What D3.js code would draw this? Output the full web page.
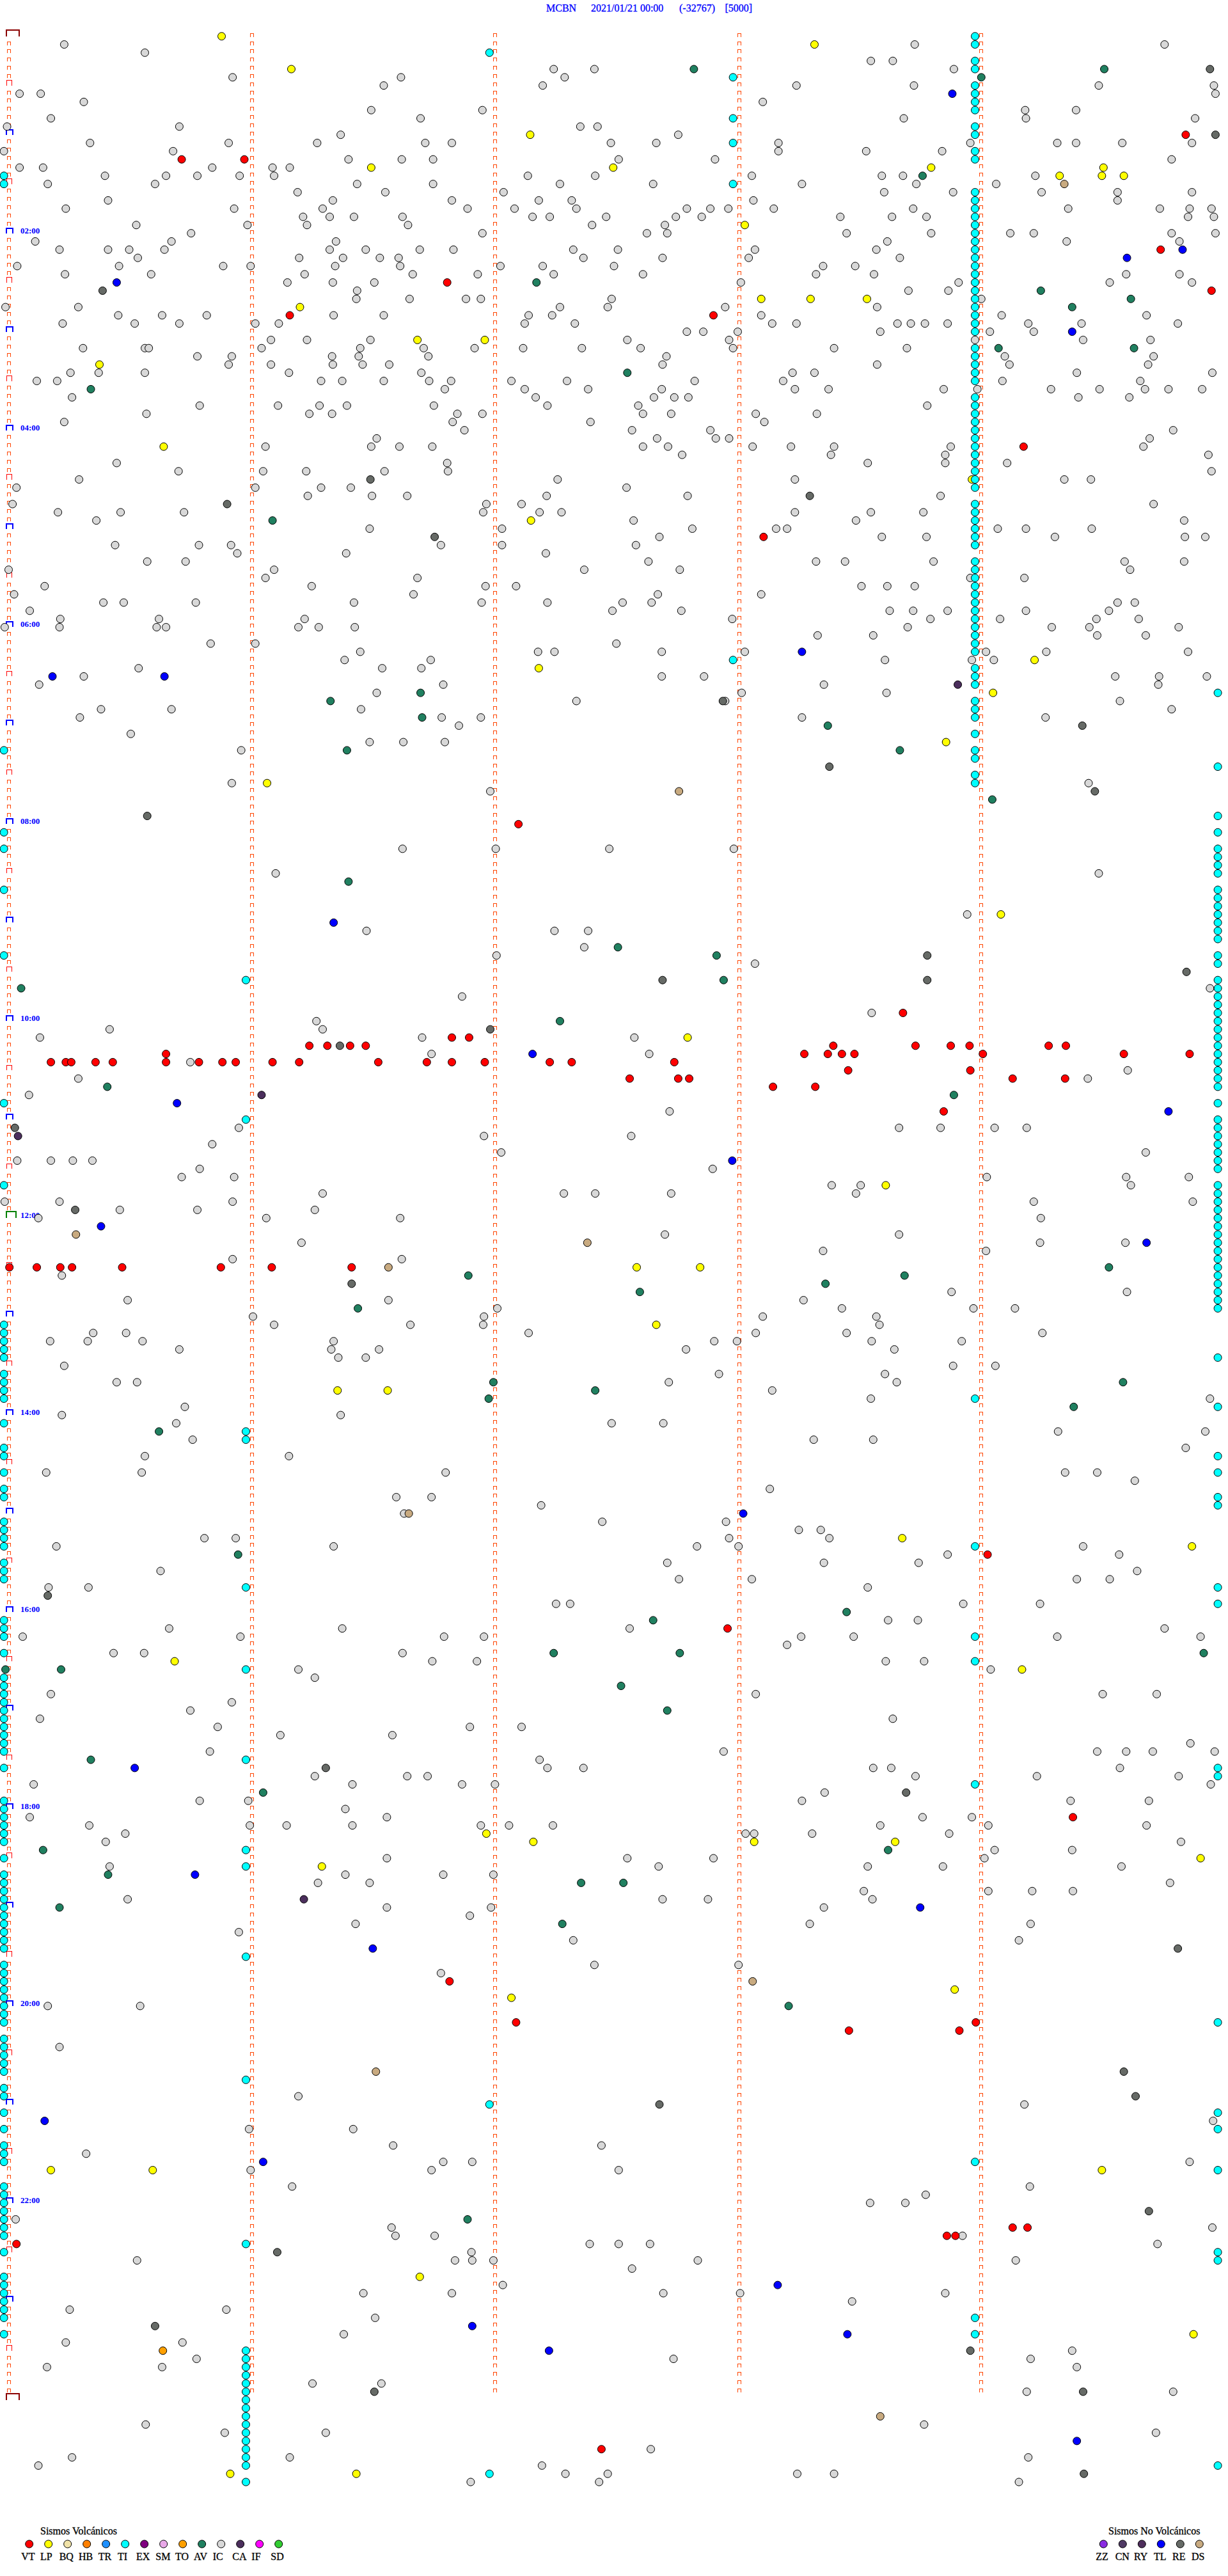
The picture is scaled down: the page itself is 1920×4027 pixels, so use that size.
<!DOCTYPE html>
<html><head><meta charset="utf-8">
<script src="https://cdn.jsdelivr.net/npm/d3@7"></script>
<style>html,body{margin:0;padding:0;background:#fff}svg{display:block}text{font-family:"Liberation Serif",serif}</style>
</head><body><div id="chart"></div>
<script>
// Each event list: [window index (5 min windows from 00:00), offsets inside the window...]
const IC=[[1,82,1168,1487],[2,185],[3,1112,1140],[4,707,759,1218],[5,297,512,721],[6,490,693,1017,1167,1403,1550],[7,25,52,1552],[8,107,974],[9,474,616,1309,1374],[10,65,537,1154,1310,1526],[11,9,229,741,763],[12,435,866],[13,115,292,405,543,577,780,838,994,1239,1350,1374,1433,1522],[14,5,221,994,1106,1203],[15,445,513,553,790,913,1496],[16,25,55,271,348,370],[17,134,212,252,306,350,674,760,960,1126,1153,1322],[18,61,198,456,553,715,834,1024,1170,1272],
[19,380,492,643,1129,1217,1330,1427,1522],[20,138,425,577,688,730,962,1427],[21,84,299,412,597,657,736,877,907,930,988,1166,1364,1481,1519,1547],[22,387,421,452,514,680,702,774,863,896,1073,1139,1183,1517,1550],[23,174,316,392,521,756,849],[24,244,616,826,852,1081,1189,1290,1320,1496,1552],[25,45,219,429,1133,1362,1506],[26,76,138,165,210,421,467,536,579,732,789,964,1119],[27,176,382,438,485,509,745,846,956,1149],[28,22,152,285,320,428,511,639,693,784,1051,1092],[29,83,193,389,527,610,707,821,1042,1116,1438,1506],[30,367,425,478,946,1224,1417,1522],[31,456,1160,1211],[32,455,523,595,614,781,1253],[33,7,100,715,776,926,1120],[34,151,207,264,426,490,675,705,972,1279,1464],[35,80,172,229,326,356,670,734,986,1017,1146,1163,1181,1210,1313,1381,1504],[36,877,898,942,1124,1264,1320],[37,346,392,473,801,931,1245,1383,1469],[38,106,185,190,334,460,541,606,668,743,818,936,1065,1158],[39,252,296,424,458,547,851,1283,1473],[40,292,346,425,463,497,846,1120,1289,1466],[41,90,126,185,369,538,1012,1040,1375,1548],[42,47,73,410,437,490,548,576,653,724,887,1000,1280,1456],[43,568,670,751,845,1015,1058,1205,1248,1342,1404,1462,1492,1535],[44,92,684,835,861,879,1377,1442],[45,255,355,408,443,554,699,815,1184],[46,187,395,424,584,616,821,857,965,1043],[47,82,578,754,976],[48,593,807,907,1498],
[49,481,839,914,931,1468],[50,339,474,510,552,821,853,961,1010,1065,1214,1460],[51,871,1061,1207,1543],[52,149,571,1108,1207,1286],[53,228,336,391,491,572,1547],[54,101,712,1015,1359,1393],[55,21,326,410,448,800],[56,393,475,520,698,878,1201],[57,16,621,666,1473],[58,74,154,235,617,689,717,1015,1112,1179],[59,123,809,1093,1512],[60,472,641,884,991,1005,1274,1310,1394],[61,842,1126,1183,1347,1513,1539],[62,147,254,295,563,641,812],[63,303,442,697],[64,188,237,828,1042,1079,1192,1436,1512],[65,11,350,746,868,1443],[66,339,533,1239,1308],[67,57,398,620,659,1100,1133,1168],[68,18,528,840,972],[69,132,158,250,452,615,699,795,832,1427,1449],[70,38,782,870,1136,1166,1210,1310,1416],[71,77,203,389,935,1188,1277,1400,1454],[72,6,76,200,212,381,407,453,1159,1343,1391,1505],[73,1044,1115,1401,1463],[74,269,326,787],[75,460,687,708,845,951,1259,1336,1517],[76,440,550,1130,1241,1269],[77,177,488,538],[78,107,845,899,1424,1480,1541],[79,50,566,1052,1479],[80,481,947,1132],[81,736,926,1430],[82,129,219,461,1496],[83,102,564,614,1024,1335],[84,586],[85,167],[86,472,515,568],[87,308],[91,296,1390],[92,626],
[99,514,633,778,937],[102,352,1403],[107,1235],[109,468,708,751],[111,746],[112,634],[113,964],[116,1545],[117,590],[119,1113],[120,404],[121,140,412],[122,51,539,810],[124,551,829],[125,243],[126,1440],[127,100,1389],[129,37],[131,855],[133,305,1148,1201,1270,1311],[134,618,806],[135,271],[136,640,1463],[137,22,65,93,118],[138,255,910],[139,232,299,1260,1438,1518],[140,1062,1099,1444],[141,412,720,760,857,1093],[142,6,76,297,1320,1523],[143,153,252,402],[144,49,340,511,1329],[146,849,1148],[147,385,1328,1437],[148,1051,1259],
[149,297,513],[151,79],[153,1215,1439],[154,163,496,1026],[155,635,1075,1243,1296],[156,323,618,974,1119],[157,350,524,617,1123],[158,119,161,675,965,1081,1331],[159,64,112,182,426,912,941,1113,1228],[160,229,423,484,876,1142],[161,432,467],[162,82,1217,1271],[163,918,1130],[164,149,175,854,1145],[165,986],[166,1112,1545],[167,236],[168,79,435],[169,225,781,847],[170,1351,1539],[171,246,1039,1115],[172,1514],[173,185,369],[175,59,181,569,1360,1401],[176,1449],[177,983],[178,506,551],[179,691],[180,516],[181,769,927],[182,1020,1048],[183,261,301,931,1059],[184,72,426,890,943,1383],[185,1210,1429],[186,852,1052,1173],[187,205,1452],[188,867,960,1375,1417],[189,62,113,1108],[191,710,728,1230,1328],[193,1134,1172],[194,216,437,804,1487],[195,29,307,567,618,1023,1090,1350,1533],[196,1005],[197,145,184,514],[198,552,609,1131,1180],
[199,381,1265],[200,402],[202,65,965,1408,1477],[203,296],[204,243],[205,51,1140],[206,278,600,666],[207,358,501],[208,1520],[209,268,924,1401,1438,1472,1551],[210,689],[211,699,745,1115,1138,1430],[212,402,520,546,1169,1324,1505],[213,43,450,590,632,1546],[214,1053],[215,255,317,1024,1367,1467],[216,441],[217,38,494,1178,1241],[218,114,319,366,450,614,650,706,1124,1262,1464],[219,160,952,963,1037,1212],[220,135,1508],[221,1270,1369],[222,494,801,911,1257],[223,140,841,1108,1204,1432],[224,441,566,630],[225,406,472,1494],[226,1103,1262,1318,1370],[227,163,846,904,1114],[228,494,627,1052],[229,600],[230,454,1034,1316],[231,305],[232,732,1301],[235,759,943],[236,563],[240,61,179],[245,76],
[251,381],[252,1308],[254,1549],[255,318,451],[257,502,768],[258,110],[259,566,603,1519],[260,320,551,790],[262,373,1315],[263,1182],[264,1111,1156],[266,20],[267,500,1548],[268,505,555,1229],[269,753,790,830,1478],[270,602],[271,175,581,603,630,891,1297],[272,807],[274,642],[275,464,577,847,945,1207],[276,1088],[277,89,289],[278,479],[280,439],[281,84,233],[282,1369],[283,251,860,1316],[284,60,207,1375],[286,399,487],[287,1311,1498],[291,186,1180],[292,287,416,1476],[294,831],[295,92,370,1313],[296,49,692],[297,722,776,1018,1065],[298,601,765,1301]];
const LP=[[0,283],[1,1040],[4,372],[12,677],[16,474,783,1189,1409],[17,1353,1407,1435],[23,951],[32,972,1035,1107],[33,383],[37,533,619],[40,127],[50,209],[54,1241],[59,678],[76,1321],[77,688],[80,1268],[86,1208],[91,341],[107,1278],[122,878],[140,1131],[150,813,894],[157,838],[165,431,495],[183,1152],[184,1522],[198,223],[199,1305],[219,621],[220,681,963,1143],[222,1533],[223,411],[238,1219],[239,653],[260,65,195,1407],[273,536],[280,1524],[297,294,455]];
const VT=[[12,1514],[15,232,312],[26,1482],[30,571],[31,1547],[34,370,911],[50,1307],[61,975],[96,662],[119,1153],[122,577,599],[123,395,418,447,467,1064,1169,1214,1238,1339,1361],[124,212,1027,1057,1075,1091,1255,1435,1519],[125,65,84,91,122,144,212,254,284,301,348,382,483,545,577,619,702,730,861],[126,1083,1239],[127,804,866,880,1293,1360],[128,987,1041],[131,1205],[150,12,47,77,92,156,282,347,449],[185,1261],[194,929],[217,1370],[237,574],[242,659,1246],[243,1084,1225],[267,1293,1312],[268,1209,1220],[269,21],[294,768]];
const AV=[[4,886,1410],[5,1253],[17,1178],[30,685],[31,1329],[32,1444],[33,1369],[38,1275,1448],[41,801],[43,116],[59,348],[80,537],[81,422],[83,539],[84,1057],[87,443,1149],[93,1267],[103,445],[111,789],[112,915],[115,924],[116,27],[120,715],[128,137],[129,1218],[150,1416],[151,598,1155],[152,1054],[153,817],[155,457],[164,630,1434],[165,760],[166,624],[167,1371],[170,203],[185,304],[192,1081],[193,834],[197,707,868,1537],[199,7,78],[201,793],[204,852],[210,116],[214,336],[221,55,1134],[224,138],[225,742,796],[228,76],[230,718],[240,1007],[266,597]];
const TL=[[7,1216],[26,1510],[27,1439],[30,149],[36,1369],[75,1024],[78,67,210],[108,426],[124,680],[130,226],[131,1492],[137,935],[145,129],[147,1464],[180,949],[211,172],[224,249],[228,1175],[233,476],[254,57],[259,336],[274,993],[279,603],[280,1082],[282,701],[293,1375]];
const RE=[[4,1545],[12,1552],[31,131],[54,473],[56,1034],[57,290],[61,555],[81,923],[84,1382],[89,1059],[92,1398],[95,188],[112,1184],[114,1515],[115,846,1184],[121,626],[123,434],[133,19],[143,96],[152,449],[190,61],[211,416],[214,1157],[233,1504],[248,1435],[251,1450],[252,842],[265,1467],[270,354],[279,198],[282,1239],[287,478,1383],[297,1384]];
const DS=[[18,1359],[92,867],[146,97],[147,750],[150,496],[180,522],[237,961],[248,480],[290,1124]];
const CA=[[79,1223],[129,334],[134,23],[227,388]];
const TO=[[282,208]];
// Tremor (TI) events recorded at nearly fixed offsets: [offset, windows...]
const TI_COLUMNS=[
[1245,0,1,3,4,6,7,8,9,11,12,14,15,19,20,21,22,23,24,25,26,27,28,29,30,31,32,33,34,35,36,38,39,40,41,42,44,45,46,47,48,49,50,51,52,53,54,55,57,58,59,60,61,62,64,65,66,67,68,69,70,71,72,73,74,75,77,78,79,81,82,83,85,87,88,90,91,166,184,195,198,213,259,278,280],
[5,17,18,87,97,99,104,112,130,140,157,158,159,160,161,163,164,165,166,169,172,173,175,177,178,181,182,183,184,186,187,188,193,194,195,197,200,201,202,203,204,205,206,207,208,209,211,215,216,217,218,219,220,222,224,225,226,227,228,229,230,231,232,233,235,236,237,238,239,240,241,242,244,245,246,247,248,250,251,253,255,257,258,259,262,263,264,265,266,267,268,270,273,274,275,276,277,278,280],
[1555,80,89,95,97,99,100,101,102,104,105,106,107,108,109,110,112,113,115,116,117,118,119,120,121,122,123,124,125,126,127,128,130,132,133,134,135,136,137,138,140,141,142,143,144,145,146,147,148,149,150,151,152,153,154,155,161,167,173,175,178,179,189,191,211,212,242,253,255,260,270,271,296],
[314,115,132,170,171,189,199,210,221,223,234,249,269,282,283,284,285,286,287,288,289,290,291,292,293,294,295,296,298],
[936,5,10,13,18,76],[625,2,252,297]];
// Legend
const volcanicCodes=["VT","LP","BQ","HB","TR","TI","EX","SM","TO","AV","IC","CA","IF","SD"];
const volcanicColors=["#ff0000","#ffff00","#f0e2a8","#ff8000","#1e90ff","#00ffff","#800080","#e8a8e8","#ffa000","#208060","#d8d8d8","#4b2e5c","#ff00ff","#32cd32"];
const nonVolcanicCodes=["ZZ","CN","RY","TL","RE","DS"];
const nonVolcanicColors=["#8a2be2","#503a64","#4e2e5c","#0000ff","#666a66","#c8aa80"];
const hourLabels=[["02:00",24],["04:00",48],["06:00",72],["08:00",96],["10:00",120],["12:00",144],["14:00",168],["16:00",192],["18:00",216],["20:00",240],["22:00",264]];
const minuteLines=[10.6,321,631.5,943,1252];
const windowCount=288;
const title=[["MCBN",854],["2021/01/21 00:00",924],["(-32767)",1062],["[5000]",1133.5]];
const colorOf=Object.fromEntries([...volcanicCodes.map((c,i)=>[c,volcanicColors[i]]),...nonVolcanicCodes.map((c,i)=>[c,nonVolcanicColors[i]])]);

const W=1920,H=4027,R=6;
const x=d3.scaleLinear([0,1568],[0,W]);
const y=d3.scaleLinear([0,windowCount],[56.7,56.7+12.83*windowCount]);
const svg=d3.select("#chart").append("svg").attr("width",W).attr("height",H).attr("viewBox",`0 0 ${W} ${H}`);

// title
svg.append("g").selectAll("text").data(title).join("text")
  .attr("x",d=>d[1]).attr("y",18).attr("font-size",16).attr("fill","#0000ff")
  .attr("stroke","#0000ff").attr("stroke-width",.3).text(d=>d[0]);

// minute lines of tick marks
const tickPath=(cx,top,w,h)=>`M${cx-w/2},${top+h}V${top}H${cx+w/2}V${top+h}`;
const lines=svg.append("g").attr("fill","none").attr("shape-rendering","crispEdges");
const rows=d3.range(0,windowCount);
minuteLines.forEach((off,li)=>{
  const ticks=li===0?rows.filter(r=>r%6!==0):rows;
  lines.append("g").attr("stroke","#ff4500").attr("stroke-width",1).selectAll("path").data(ticks).join("path")
    .attr("d",r=>tickPath(Math.round(x(off))+.5,Math.round(y(r)-5)+.5,5,5));
});
// half-hour brackets on first line
const bracket=r=>{
  if(r===0||r===windowCount) return {c:"#8b0000",w:20,h:10,s:2};
  if(r===144) return {c:"#008000",w:15,h:10,s:2};
  if(r%12===0) return {c:"#0000ff",w:10,h:8,s:2};
  return {c:"#ff0000",w:8,h:8,s:1};
};
lines.append("g").selectAll("path").data(d3.range(0,windowCount+1,6)).join("path")
  .attr("stroke",r=>bracket(r).c).attr("stroke-width",r=>bracket(r).s)
  .attr("d",r=>{const b=bracket(r);return `M${x(minuteLines[0])-3+.5},${y(r)}V${y(r)-b.h}H${x(minuteLines[0])-3+.5+b.w}V${y(r)}`;});

// hour labels
svg.append("g").selectAll("text").data(hourLabels).join("text")
  .attr("x",32).attr("y",d=>y(d[1])).attr("font-size",13).attr("font-weight","bold").attr("fill","#0000ff").text(d=>d[0]);

// events
const expand=(list,code)=>list.flatMap(([r,...offs])=>offs.map(o=>({r,o,code})));
const tiEvents=TI_COLUMNS.flatMap(([o,...rs])=>rs.map(r=>({r,o,code:"TI"})));
const events=[...expand(IC,"IC"),...expand(LP,"LP"),...expand(AV,"AV"),...expand(DS,"DS"),...expand(TO,"TO"),...expand(CA,"CA"),...expand(RE,"RE"),...expand(TL,"TL"),...expand(VT,"VT"),...tiEvents];
svg.append("g").attr("stroke","#000").attr("stroke-width",1).selectAll("circle").data(events).join("circle")
  .attr("cx",d=>x(d.o)).attr("cy",d=>y(d.r)).attr("r",R).attr("fill",d=>colorOf[d.code]);

// legends
function legend(head,headX,codes,dotX0,labelX){
  const g=svg.append("g");
  g.append("text").attr("x",headX).attr("y",3962).attr("font-size",16).attr("fill","#000").attr("stroke","#000").attr("stroke-width",.3).text(head);
  const lx=d3.scalePoint(codes,[dotX0,dotX0+30*(codes.length-1)]);
  g.selectAll("circle").data(codes).join("circle").attr("cx",d=>lx(d)).attr("cy",3977).attr("r",R)
    .attr("fill",d=>colorOf[d]).attr("stroke","#000");
  g.selectAll("text.code").data(codes).join("text").attr("class","code")
    .attr("x",(d,i)=>labelX[i]).attr("y",4002).attr("font-size",16).attr("fill","#000").attr("stroke","#000").attr("stroke-width",.3).text(d=>d);
}
legend("Sismos Volcánicos",63,volcanicCodes,45.7,[33.3,63,92.7,123,153.7,184,213,243.3,274,303,332.7,363.3,393.3,423.3]);
legend("Sismos No Volcánicos",1733,nonVolcanicCodes,1725.3,[1713.3,1743.7,1773,1804,1833,1863]);
</script></body></html>
